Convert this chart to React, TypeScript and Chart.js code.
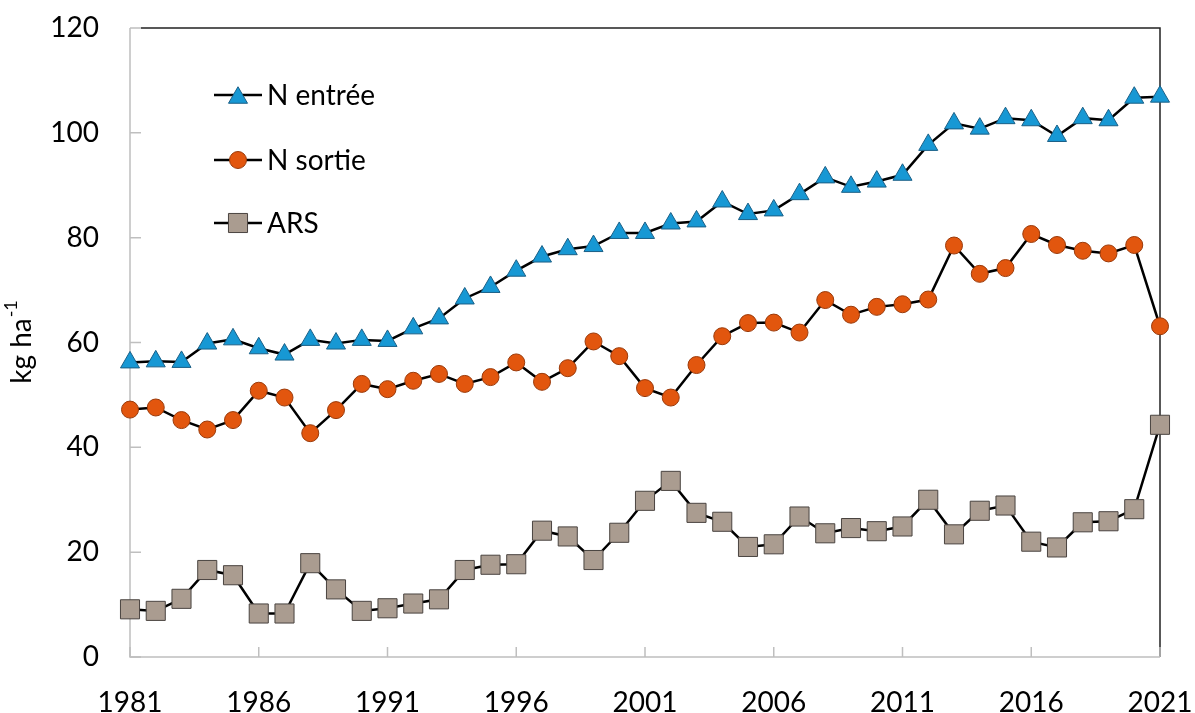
import React, { useEffect, useRef } from "react";
import { Chart, registerables } from "chart.js";

Chart.register(...registerables);

const years = [
  "1981", "1982", "1983", "1984", "1985", "1986", "1987", "1988", "1989", "1990",
  "1991", "1992", "1993", "1994", "1995", "1996", "1997", "1998", "1999", "2000",
  "2001", "2002", "2003", "2004", "2005", "2006", "2007", "2008", "2009", "2010",
  "2011", "2012", "2013", "2014", "2015", "2016", "2017", "2018", "2019", "2020",
  "2021",
];

const nEntree = [
  56.2, 56.4, 56.3, 59.8, 60.6, 58.9, 57.7, 60.5, 59.8, 60.5, 60.3,
  62.7, 64.6, 68.4, 70.6, 73.7, 76.4, 77.8, 78.4, 80.9, 80.9,
  82.7, 83.1, 86.9, 84.5, 85.2, 88.3, 91.5, 89.7, 90.7, 92.0,
  97.7, 101.8, 100.8, 102.8, 102.4, 99.4, 102.8, 102.4, 106.7, 106.9,
];

const nSortie = [
  47.2, 47.6, 45.2, 43.4, 45.2, 50.8, 49.5, 42.7, 47.1, 52.1, 51.1,
  52.7, 54.0, 52.1, 53.4, 56.2, 52.5, 55.1, 60.2, 57.4, 51.3,
  49.5, 55.7, 61.2, 63.7, 63.8, 61.9, 68.1, 65.3, 66.8, 67.3,
  68.2, 78.5, 73.1, 74.2, 80.7, 78.6, 77.5, 77.0, 78.6, 63.1,
];

const ars = [
  9.1, 8.8, 11.1, 16.6, 15.6, 8.3, 8.3, 17.9, 12.9, 8.8, 9.3,
  10.2, 11.0, 16.6, 17.6, 17.7, 24.1, 23.0, 18.5, 23.7, 29.8,
  33.6, 27.5, 25.8, 21.0, 21.5, 26.8, 23.6, 24.6, 24.0, 24.9,
  30.0, 23.4, 27.9, 28.9, 22.0, 20.9, 25.7, 25.9, 28.2, 44.3,
];

const seriesNames = ["N entrée", "N sortie", "ARS"];
const yTicks = [0, 20, 40, 60, 80, 100, 120];
const xLabelStep = 5;

const FONT = "Lato, 'Open Sans', sans-serif";

export default function App() {
  const ref = useRef<HTMLCanvasElement | null>(null);

  useEffect(() => {
    document.body.style.margin = "0";
    const canvas = ref.current;
    if (!canvas) return;

    function drawMarker(ctx: any, style: string, r: number, x: number, y: number) {
      ctx.beginPath();
      if (style === "triangle") {
        for (let k = 0; k < 3; k++) {
          const ang = -Math.PI / 2 + (k * 2 * Math.PI) / 3;
          const px = x + Math.cos(ang) * r;
          const py = y + Math.sin(ang) * r + r * 0.25;
          if (k === 0) ctx.moveTo(px, py);
          else ctx.lineTo(px, py);
        }
        ctx.closePath();
      } else if (style === "circle") {
        ctx.arc(x, y, r, 0, Math.PI * 2);
      } else {
        const s = Math.SQRT1_2 * r;
        ctx.rect(x - s, y - s, 2 * s, 2 * s);
      }
      ctx.fill();
      ctx.stroke();
    }

    const framePlugin = {
      id: "frame",
      beforeDatasetsDraw(chart: any) {
        const { ctx, chartArea } = chart;
        const { left, right, top, bottom } = chartArea;
        const xs = chart.scales.x;
        const ys = chart.scales.y;
        ctx.save();
        ctx.strokeStyle = "#222";
        ctx.lineWidth = 1.5;
        ctx.beginPath();
        ctx.moveTo(left + 11, top);
        ctx.lineTo(right, top);
        ctx.lineTo(right, bottom);
        ctx.stroke();
        ctx.strokeStyle = "#bfbfbf";
        ctx.lineWidth = 1.5;
        ctx.beginPath();
        ctx.moveTo(left, top);
        ctx.lineTo(left, bottom);
        ctx.lineTo(right, bottom);
        ctx.stroke();
        ctx.beginPath();
        yTicks.forEach((v) => {
          const y = ys.getPixelForValue(v);
          ctx.moveTo(left, y);
          ctx.lineTo(left + 11, y);
        });
        years.forEach((_, i) => {
          if (i % xLabelStep === 0) {
            const x = xs.getPixelForValue(i);
            ctx.moveTo(x, bottom);
            ctx.lineTo(x, bottom - 10);
          }
        });
        ctx.stroke();
        ctx.restore();
      },
      afterDraw(chart: any) {
        const { ctx, chartArea } = chart;
        ctx.save();
        const cy = (chartArea.top + chartArea.bottom) / 2;
        ctx.translate(22, cy);
        ctx.rotate(-Math.PI / 2);
        ctx.fillStyle = "#000";
        ctx.textBaseline = "middle";
        const main = "kg ha";
        ctx.font = `28px ${FONT}`;
        const w1 = ctx.measureText(main).width;
        ctx.font = `18px ${FONT}`;
        const w2 = ctx.measureText("-1").width;
        const total = w1 + w2;
        ctx.font = `28px ${FONT}`;
        ctx.textAlign = "left";
        ctx.fillText(main, -total / 2, 0);
        ctx.font = `18px ${FONT}`;
        ctx.fillText("-1", -total / 2 + w1 + 1, -11);
        ctx.restore();

        ctx.save();
        const rows = [95, 160, 223];
        chart.data.datasets.forEach((ds: any, i: number) => {
          const y = rows[i];
          ctx.strokeStyle = "#000";
          ctx.lineWidth = 2.5;
          ctx.beginPath();
          ctx.moveTo(214, y);
          ctx.lineTo(262, y);
          ctx.stroke();
          ctx.fillStyle = ds.pointBackgroundColor;
          ctx.strokeStyle = ds.pointBorderColor;
          ctx.lineWidth = 1;
          drawMarker(ctx, ds.pointStyle, ds.pointRadius, 238, y);
          ctx.fillStyle = "#000";
          ctx.font = `28px ${FONT}`;
          ctx.textAlign = "left";
          ctx.textBaseline = "middle";
          ctx.fillText(ds.label, 267, y + 1);
        });
        ctx.restore();
      },
    };

    const chart = new Chart(canvas, {
      type: "line",
      data: {
        labels: years,
        datasets: [
          {
            label: seriesNames[0],
            data: nEntree,
            borderColor: "#000",
            borderWidth: 2.5,
            pointStyle: "triangle",
            pointRadius: 11,
            pointBackgroundColor: "#1798d4",
            pointBorderColor: "#1a5f86",
            pointBorderWidth: 1,
            clip: false,
            order: 3,
          },
          {
            label: seriesNames[1],
            data: nSortie,
            borderColor: "#000",
            borderWidth: 2.5,
            pointStyle: "circle",
            pointRadius: 8.5,
            pointBackgroundColor: "#e2560e",
            pointBorderColor: "#9a3a0a",
            pointBorderWidth: 1,
            clip: false,
            order: 2,
          },
          {
            label: seriesNames[2],
            data: ars,
            borderColor: "#000",
            borderWidth: 2.5,
            pointStyle: "rect",
            pointRadius: 13.5,
            pointBackgroundColor: "#aa9c90",
            pointBorderColor: "#4a4440",
            pointBorderWidth: 1,
            clip: false,
            order: 1,
          },
        ] as any,
      },
      options: {
        animation: false,
        responsive: false,
        maintainAspectRatio: false,
        events: [],
        layout: { padding: { top: 28, right: 35, left: 0, bottom: 0 } },
        plugins: {
          legend: { display: false },
          tooltip: { enabled: false },
          title: { display: false },
        },
        scales: {
          x: {
            type: "category",
            offset: false,
            grid: { display: false, drawTicks: false },
            border: { display: false },
            ticks: {
              autoSkip: false,
              maxRotation: 0,
              padding: 29,
              color: "#000",
              font: { family: FONT, size: 28 },
              callback: (_v: any, i: number) => (i % xLabelStep === 0 ? years[i] : ""),
            },
            afterFit: (s: any) => {
              s.height = 56;
              s.paddingLeft = 0;
              s.paddingRight = 0;
              s.paddingTop = 0;
              s.paddingBottom = 0;
            },
          },
          y: {
            min: 0,
            max: 120,
            grid: { display: false, drawTicks: false },
            border: { display: false },
            afterBuildTicks: (s: any) => {
              s.ticks = yTicks.map((v) => ({ value: v }));
            },
            ticks: {
              padding: 31,
              color: "#000",
              font: { family: FONT, size: 28 },
            },
            afterFit: (s: any) => {
              s.width = 130;
              s.paddingLeft = 0;
              s.paddingRight = 0;
              s.paddingTop = 0;
              s.paddingBottom = 0;
            },
          },
        },
      } as any,
      plugins: [framePlugin],
    });

    return () => chart.destroy();
  }, []);

  return <canvas ref={ref} width={1195} height={713} style={{ display: "block" }} />;
}
